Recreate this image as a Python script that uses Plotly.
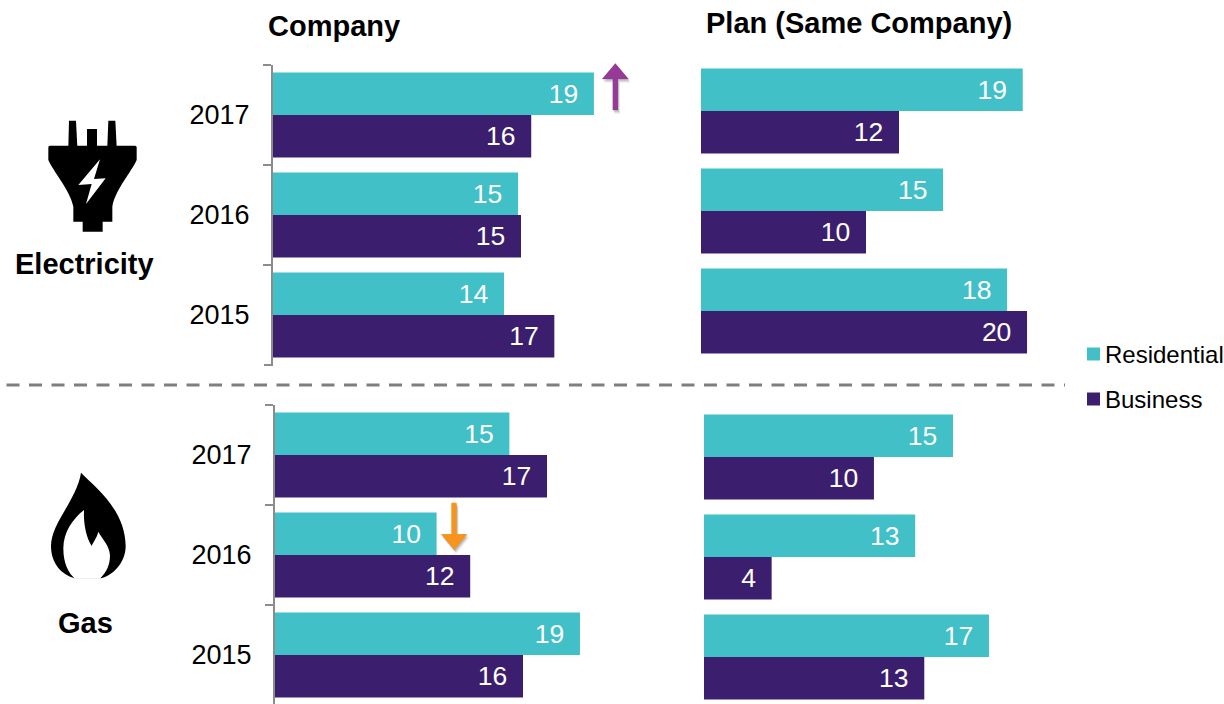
import plotly.graph_objects as go

W, H = 1224, 704
years = ["2017", "2016", "2015"]
series_names = ["Residential", "Business"]
TEAL = "#41C0C8"
PURPLE = "#3B1F6E"
FONT = "Liberation Sans, Arial, sans-serif"

# Values; printed labels are the rounded values shown in the picture
elec_company_res = [19.45, 14.85, 14.0]
elec_company_bus = [15.65, 15.03, 17.05]
elec_plan_res = [19.5, 14.67, 18.55]
elec_plan_bus = [12.0, 10.0, 19.76]
gas_company_res = [14.65, 10.1, 19.06]
gas_company_bus = [17.0, 12.2, 15.5]
gas_plan_res = [15.09, 12.8, 17.27]
gas_plan_bus = [10.3, 4.1, 13.35]

elec_company_res_labels = ["19", "15", "14"]
elec_company_bus_labels = ["16", "15", "17"]
elec_plan_res_labels = ["19", "15", "18"]
elec_plan_bus_labels = ["12", "10", "20"]
gas_company_res_labels = ["15", "10", "19"]
gas_company_bus_labels = ["17", "12", "16"]
gas_plan_res_labels = ["15", "13", "17"]
gas_plan_bus_labels = ["10", "4", "13"]

panels = [
    # res, bus, res labels, bus labels, x0 px, px per unit, top px, bottom px, y-axis shown
    (elec_company_res, elec_company_bus, elec_company_res_labels, elec_company_bus_labels, 273, 16.5, 65, 365, True),
    (elec_plan_res, elec_plan_bus, elec_plan_res_labels, elec_plan_bus_labels, 701, 16.5, 61, 361, False),
    (gas_company_res, gas_company_bus, gas_company_res_labels, gas_company_bus_labels, 275, 16.0, 405, 704, True),
    (gas_plan_res, gas_plan_bus, gas_plan_res_labels, gas_plan_bus_labels, 704, 16.5, 407, 704, False),
]

fig = go.Figure()
PAD = "\u00a0\u2009"
for i, (res, bus, rl, bl, x0, k, top, bot, show_axis) in enumerate(panels, start=1):
    xa, ya = f"x{i}", f"y{i}"
    for name, vals, labs, col in ((series_names[0], res, rl, TEAL), (series_names[1], bus, bl, PURPLE)):
        fig.add_trace(go.Bar(
            y=years, x=vals, orientation="h", name=name, xaxis=xa, yaxis=ya,
            marker=dict(color=col, line=dict(width=0)),
            text=[t + PAD for t in labs], textposition="inside", insidetextanchor="end",
            insidetextfont=dict(color="white", size=26.5, family=FONT), textangle=0,
            constraintext="none", showlegend=False, cliponaxis=False, hoverinfo="x+y+name",
        ))
    xmax = 22
    xkey = "xaxis" if i == 1 else f"xaxis{i}"
    ykey = "yaxis" if i == 1 else f"yaxis{i}"
    full_band = 300.0
    rows = (bot - top) / full_band * 3
    fig.update_layout({
        xkey: dict(domain=[x0 / W, (x0 + k * xmax) / W], range=[0, xmax], visible=False, anchor=ya),
        ykey: dict(domain=[1 - bot / H, 1 - top / H], type="category", categoryorder="array",
                   categoryarray=years, range=[-0.5 + rows, -0.5], anchor=xa,
                   showgrid=False, zeroline=False, tickson="boundaries",
                   showline=show_axis, linecolor="#8C8C8C", linewidth=2,
                   ticks="outside" if show_axis else "", ticklen=8, tickwidth=2, tickcolor="#8C8C8C",
                   showticklabels=show_axis, ticklabelstandoff=16,
                   tickfont=dict(size=27, color="black", family=FONT)),
    })


def path(cmds, ox, oy):
    out = []
    for c in cmds:
        pts = " ".join(f"{(ox + p[0] / 3) / W:.5f},{1 - (oy + p[1] / 3) / H:.5f}" for p in c[1:])
        out.append(c[0] + " " + pts)
    return " ".join(out) + " Z"


def icon(cmds, ox, oy, color):
    return dict(type="path", xref="paper", yref="paper", path=path(cmds, ox, oy),
                fillcolor=color, line=dict(width=0), layer="above")


shapes = []
# Plug icon
plug_body = [("M", (150, 137)), ("L", (405, 137)), ("Q", (410, 137), (410, 142)), ("L", (410, 180)),
             ("C", (395, 215), (345, 270), (337, 320)), ("L", (337, 365)), ("L", (308, 365)), ("L", (308, 395)),
             ("L", (248, 395)), ("L", (248, 365)), ("L", (220, 365)), ("L", (220, 320)),
             ("C", (210, 270), (160, 215), (145, 180)), ("L", (145, 142)), ("Q", (145, 137), (150, 137))]
prongs = [
    [("M", (205, 140)), ("L", (207, 62)), ("L", (228, 62)), ("L", (232, 140))],
    [("M", (261, 140)), ("L", (261, 87)), ("L", (291, 87)), ("L", (291, 140))],
    [("M", (322, 140)), ("L", (325, 62)), ("L", (346, 62)), ("L", (350, 140))],
]
bolt = [("M", (300, 178)), ("L", (235, 255)), ("L", (275, 252)), ("L", (258, 312)),
        ("L", (317, 235)), ("L", (282, 237))]
shapes.append(icon(plug_body, 0, 100, "black"))
shapes += [icon(p, 0, 100, "black") for p in prongs]
shapes.append(icon(bolt, 0, 100, "white"))

# Flame icon
flame_out = [("M", (153, 38)), ("C", (200, 85), (285, 150), (287, 258)),
             ("C", (287, 310), (245, 350), (210, 355)), ("L", (135, 355)),
             ("C", (95, 345), (63, 310), (63, 258)), ("C", (63, 190), (140, 120), (153, 38))]
flame_in = [("M", (162, 150)), ("C", (130, 175), (100, 215), (100, 265)),
            ("C", (100, 310), (115, 340), (135, 356)), ("L", (210, 356)),
            ("C", (230, 335), (240, 315), (240, 285)), ("C", (238, 255), (215, 235), (205, 215)),
            ("C", (200, 235), (190, 245), (185, 258)), ("C", (170, 235), (160, 195), (162, 150))]
shapes.append(icon(flame_out, 30, 460, "black"))
shapes.append(icon(flame_in, 30, 460, "white"))

# Trend arrows (zoom-space coordinates)
arrow_up = [("M", (166, 40)), ("L", (206, 87)), ("L", (174, 87)), ("L", (174, 180)),
            ("L", (158, 180)), ("L", (158, 87)), ("L", (126, 87))]
arrow_down = [("M", (163, 180)), ("L", (202, 132)), ("L", (170, 132)), ("L", (170, 38)),
              ("L", (154, 38)), ("L", (154, 132)), ("L", (123, 132))]
for off, a in ((1, 0.10), (2, 0.10), (3, 0.08), (4, 0.05)):
    shapes.append(icon(arrow_up, 560 + off / 2, 50 + off, f"rgba(0,0,0,{a})"))
    shapes.append(icon(arrow_down, 400 + off / 2, 490 + off, f"rgba(0,0,0,{a})"))
shapes.append(icon(arrow_up, 560, 50, "#963A97"))
shapes.append(icon(arrow_down, 400, 490, "#F7941E"))

# Separator
shapes.append(dict(type="line", xref="paper", yref="paper", x0=6.5 / W, x1=1065 / W, y0=1 - 385 / H, y1=1 - 385 / H,
                   line=dict(color="#7F7F7F", width=3, dash="13px,9.5px")))
# Closing tick at the foot of the upper axis
shapes.append(dict(type="line", xref="paper", yref="paper", x0=264 / W, x1=273 / W, y0=1 - 365 / H, y1=1 - 365 / H,
                   line=dict(color="#8C8C8C", width=2)))
# Legend swatches
for yc, col in ((354, TEAL), (399, PURPLE)):
    shapes.append(dict(type="rect", xref="paper", yref="paper", x0=1087 / W, x1=1100 / W,
                       y0=1 - (yc + 6.5) / H, y1=1 - (yc - 6.5) / H, fillcolor=col, line=dict(width=0)))


def label(text, x, y, size, bold=False, anchor="left"):
    return dict(text=f"<b>{text}</b>" if bold else text, xref="paper", yref="paper", x=x / W, y=1 - y / H,
                xanchor=anchor, yanchor="middle", showarrow=False, font=dict(size=size, color="black", family=FONT))


annotations = [
    label("Company", 266, 26, 29, True),
    label("Plan (Same Company)", 704, 23, 29, True),
    label("Electricity", 84, 264, 29, True, "center"),
    label("Gas", 85, 623, 29, True, "center"),
    label(series_names[0], 1103, 354, 24),
    label(series_names[1], 1103, 399, 24),
]

fig.update_layout(
    width=W, height=H, margin=dict(l=0, r=0, t=0, b=0), paper_bgcolor="white", plot_bgcolor="white",
    barmode="group", bargap=0.15, bargroupgap=0, showlegend=False, shapes=shapes, annotations=annotations,
)
fig.write_html("out.html", config={"displayModeBar": False},
               post_script="document.body.style.margin='0';document.body.style.overflow='hidden';")
